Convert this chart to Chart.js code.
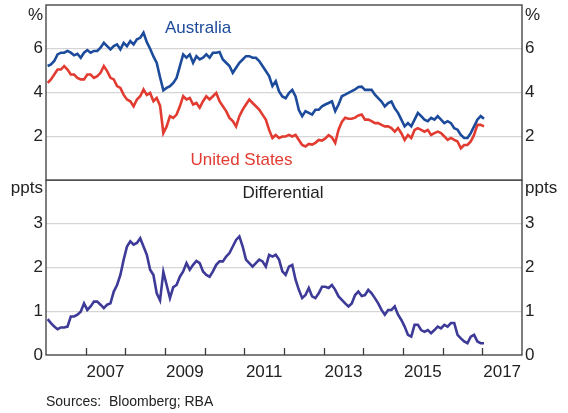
<!DOCTYPE html>
<html>
<head>
<meta charset="utf-8">
<script src="https://cdn.jsdelivr.net/npm/chart.js@4.4.1/dist/chart.umd.min.js"></script>
<style>
  html, body { margin: 0; padding: 0; background: #fff; }
  #wrap { position: relative; width: 568px; height: 413px; }
  canvas { position: absolute; left: 0; }
  #top { top: 0; }
  #bottom { top: 180px; }
</style>
</head>
<body>
<div id="wrap">
  <canvas id="top" width="568" height="181"></canvas>
  <canvas id="bottom" width="568" height="233"></canvas>
</div>
<script>
// monthly values, Jan 2006 .. Jan 2017
const startYear = 2006;

const australia = [
  5.21, 5.28, 5.44, 5.74, 5.82, 5.82, 5.9, 5.82, 5.7, 5.77, 5.59, 5.82,
  5.94, 5.82, 5.9, 5.9, 6.05, 6.27, 6.12, 5.97, 6.12, 6.2, 5.97, 6.27,
  6.12, 6.35, 6.2, 6.43, 6.5, 6.73, 6.3, 6.0, 5.65, 5.35, 4.7, 4.1,
  4.21, 4.29, 4.44, 4.67, 5.21, 5.74, 5.59, 5.74, 5.36, 5.66, 5.51, 5.59,
  5.74, 5.59, 5.82, 5.82, 5.85, 5.51, 5.36, 5.21, 4.9, 5.13, 5.36, 5.51,
  5.66, 5.66, 5.59, 5.59, 5.44, 5.21, 4.98, 4.75, 4.29, 4.52, 4.05, 3.82,
  3.74, 3.97, 4.12, 3.82, 3.2, 2.92, 3.15, 3.07, 2.99, 3.21, 3.21, 3.37,
  3.45, 3.52, 3.6, 3.15, 3.45, 3.83, 3.9, 3.98, 4.06, 4.14, 4.25, 4.27,
  4.12, 4.12, 4.12, 3.9, 3.74, 3.59, 3.36, 3.52, 3.59, 3.28, 3.07, 2.76,
  2.45, 2.6, 2.45, 2.76, 3.07, 2.92, 2.76, 2.69, 2.84, 2.76, 2.92, 2.76,
  2.6, 2.69, 2.6, 2.37, 2.3, 2.06, 1.92, 1.92, 2.14, 2.45, 2.76, 2.92,
  2.8
];

const unitedStates = [
  4.44, 4.6, 4.82, 5.05, 5.05, 5.21, 5.05, 4.82, 4.82, 4.67, 4.6, 4.6,
  4.82, 4.82, 4.67, 4.75, 4.9, 5.21, 4.98, 4.67, 4.6, 4.29, 4.21, 3.89,
  3.68, 3.6, 3.37, 3.68, 3.83, 4.14, 3.89, 3.98, 3.6, 3.75, 3.4, 2.15,
  2.45, 2.92, 2.84, 2.99, 3.37, 3.83, 3.68, 3.75, 3.45, 3.52, 3.3, 3.6,
  3.83, 3.68, 3.83, 3.98, 3.6, 3.37, 3.15, 2.84, 2.69, 2.45, 2.92, 3.22,
  3.45, 3.68, 3.52, 3.37, 3.22, 2.99, 2.76, 2.29, 1.92, 2.06, 1.92, 1.99,
  1.99, 2.06, 1.99, 2.06, 1.83, 1.6, 1.53, 1.65, 1.62, 1.7, 1.83, 1.8,
  1.9, 2.05, 1.95, 1.7, 2.3, 2.65, 2.85, 2.8, 2.8, 2.85, 2.95, 2.99,
  2.76, 2.76, 2.69, 2.6, 2.6, 2.52, 2.45, 2.45, 2.37, 2.21, 2.37, 2.14,
  1.83, 2.06, 1.92, 2.29, 2.37, 2.29, 2.21, 2.29, 2.06, 2.14, 2.21, 2.14,
  1.99, 1.83, 1.92, 1.83, 1.76, 1.45, 1.6, 1.6, 1.76, 2.06, 2.52, 2.52,
  2.45
];

const differential = [
  0.82, 0.73, 0.65, 0.59, 0.63, 0.63, 0.65, 0.88, 0.88, 0.92, 0.99, 1.18,
  1.03, 1.11, 1.22, 1.22, 1.15, 1.07, 1.15, 1.18, 1.45, 1.6, 1.83, 2.18,
  2.48, 2.6, 2.52, 2.56, 2.67, 2.48, 2.29, 1.95, 1.83, 1.41, 1.25, 1.9,
  1.6, 1.3, 1.55, 1.6, 1.79, 1.91, 2.1, 1.95, 2.06, 2.15, 2.1, 1.91,
  1.83, 1.79, 1.91, 2.06, 2.14, 2.14, 2.25, 2.33, 2.48, 2.63, 2.71, 2.48,
  2.18, 2.1, 2.02, 2.1, 2.18, 2.14, 2.02, 2.29, 2.25, 2.29, 2.18, 1.91,
  1.83, 2.02, 2.06, 1.72, 1.49, 1.3, 1.37, 1.53, 1.34, 1.3, 1.41, 1.56,
  1.56, 1.53, 1.6, 1.49, 1.34, 1.26, 1.18, 1.11, 1.18, 1.37, 1.45, 1.35,
  1.37, 1.49, 1.41, 1.3, 1.18, 1.03, 0.92, 1.03, 1.03, 1.11, 0.92, 0.8,
  0.65, 0.46, 0.42, 0.69, 0.69, 0.57, 0.53, 0.57, 0.5, 0.57, 0.65, 0.61,
  0.69, 0.65, 0.73, 0.73, 0.46, 0.38, 0.31, 0.27, 0.42, 0.46, 0.31, 0.27,
  0.27
];

const yearLabels = ['2007', '2009', '2011', '2013', '2015', '2017'];
const yearTicks = [2007, 2008, 2009, 2010, 2011, 2012, 2013, 2014, 2015, 2016, 2017];
const topTicks = [2, 4, 6];
const bottomTicks = [0, 1, 2, 3];

const BLUE = '#1d4b9b';
const RED = '#e23b31';
const PURPLE = '#3d3a98';
const GRID = '#d5d5d5';
const FONT = "'Liberation Sans', Arial, sans-serif";

Chart.defaults.font.family = FONT;
Chart.defaults.color = '#222';

const toPoints = (vals) =>
  vals.map((v, i) => ({ x: startYear + (i + 0.5) / 12, y: v }));

const fixWidth = (w) => (s) => {
  s.width = w;
  s.paddingTop = 0;
  s.paddingBottom = 0;
};

const yAxis = (pos, min, max, ticks, showGrid) => ({
  position: pos,
  min,
  max,
  afterBuildTicks: (s) => {
    s.ticks = ticks.map((v) => ({ value: v }));
  },
  afterFit: fixWidth(46),
  border: { display: false },
  grid: {
    display: showGrid,
    drawTicks: false,
    lineWidth: 1.3,
    color: (c) => (c.tick && c.tick.value === 0 ? 'rgba(0,0,0,0)' : GRID),
  },
  ticks: { font: { size: 17 }, padding: 3, color: '#222' },
});

// frame + inner year tick marks
const framePlugin = {
  id: 'frame',
  afterDraw(chart, args, opts) {
    const { ctx, chartArea: a } = chart;
    ctx.save();
    ctx.strokeStyle = '#3a3a3a';
    ctx.lineWidth = 1.3;
    ctx.strokeRect(a.left, a.top, a.right - a.left, a.bottom - a.top);
    if (opts.yearMarks) {
      const xs = chart.scales.x;
      ctx.beginPath();
      yearTicks.forEach((y) => {
        const px = Math.round(xs.getPixelForValue(y)) + 0.5;
        ctx.moveTo(px, a.bottom);
        ctx.lineTo(px, a.bottom - 7);
      });
      ctx.stroke();
    }
    ctx.restore();
  },
};

const textPlugin = {
  id: 'texts',
  afterDraw(chart, args, opts) {
    const { ctx } = chart;
    ctx.save();
    (opts.items || []).forEach((t) => {
      ctx.font = `${t.size || 17}px ${FONT}`;
      ctx.fillStyle = t.color || '#222';
      ctx.textAlign = t.align || 'left';
      ctx.textBaseline = 'alphabetic';
      ctx.fillText(t.text, t.x, t.y);
    });
    ctx.restore();
  },
};

new Chart(document.getElementById('top'), {
  type: 'line',
  data: {
    datasets: [
      {
        label: 'Australia',
        data: toPoints(australia),
        borderColor: BLUE,
        borderWidth: 2.6,
        pointRadius: 0,
        yAxisID: 'y',
      },
      {
        label: 'United States',
        data: toPoints(unitedStates),
        borderColor: RED,
        borderWidth: 2.6,
        pointRadius: 0,
        yAxisID: 'y',
      },
    ],
  },
  options: {
    responsive: false,
    animation: false,
    devicePixelRatio: 1,
    layout: { padding: { top: 5, bottom: 1, left: 0, right: 0 } },
    plugins: {
      legend: { display: false },
      tooltip: { enabled: false },
      frame: {},
      texts: {
        items: [
          { text: '%', x: 43, y: 20, align: 'right' },
          { text: '%', x: 525, y: 20 },
          { text: 'Australia', x: 165, y: 33, color: BLUE },
          { text: 'United States', x: 190.5, y: 165, color: RED },
        ],
      },
    },
    scales: {
      x: { type: 'linear', min: 2006, max: 2018, display: false },
      y: yAxis('left', 0, 8, topTicks, true),
      yr: yAxis('right', 0, 8, topTicks, false),
    },
  },
  plugins: [framePlugin, textPlugin],
});

new Chart(document.getElementById('bottom'), {
  type: 'line',
  data: {
    datasets: [
      {
        label: 'Differential',
        data: toPoints(differential),
        borderColor: PURPLE,
        borderWidth: 2.6,
        pointRadius: 0,
        yAxisID: 'y',
      },
    ],
  },
  options: {
    responsive: false,
    animation: false,
    devicePixelRatio: 1,
    layout: { padding: 0 },
    plugins: {
      legend: { display: false },
      tooltip: { enabled: false },
      frame: { yearMarks: true },
      texts: {
        items: [
          { text: 'ppts', x: 43, y: 12.5, align: 'right' },
          { text: 'ppts', x: 525, y: 12.5 },
          { text: 'Differential', x: 242.5, y: 17.5 },
          { text: 'Sources:  Bloomberg; RBA', x: 46, y: 226, size: 14 },
        ],
      },
    },
    scales: {
      x: {
        type: 'linear',
        min: 2006,
        max: 2018,
        afterBuildTicks: (s) => {
          s.ticks = yearLabels.map((l) => ({ value: Number(l) + 0.5 }));
        },
        afterFit: (s) => {
          s.height = 58;
          s.paddingLeft = 0;
          s.paddingRight = 0;
        },
        border: { display: false },
        grid: { display: false, drawTicks: false },
        ticks: {
          font: { size: 17 },
          color: '#222',
          padding: 7,
          maxRotation: 0,
          autoSkip: false,
          callback: (v) => String(Math.floor(v)),
        },
      },
      y: yAxis('left', 0, 4, bottomTicks, true),
      yr: yAxis('right', 0, 4, bottomTicks, false),
    },
  },
  plugins: [framePlugin, textPlugin],
});
</script>
</body>
</html>
